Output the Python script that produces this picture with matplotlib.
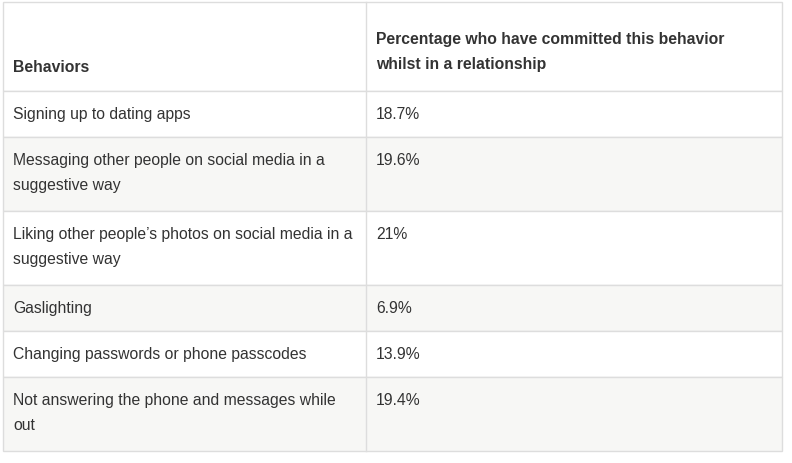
import matplotlib
matplotlib.use("Agg")
import matplotlib.pyplot as plt
from matplotlib.patches import Rectangle

header = ["Behaviors", "Percentage who have committed this behavior\nwhilst in a relationship"]
behaviors = [
    "Signing up to dating apps",
    "Messaging other people on social media in a\nsuggestive way",
    "Liking other people\u2019s photos on social media in a\nsuggestive way",
    "Gaslighting",
    "Changing passwords or phone passcodes",
    "Not answering the phone and messages while\nout",
]
percentages = ["18.7%", "19.6%", "21%", "6.9%", "13.9%", "19.4%"]

W, H = 792, 464
left, right, top = 3, 782, 3
split = 366
line_h = 28
pad = 18
header_h = 89

plt.rcParams["font.family"] = ["Liberation Sans", "DejaVu Sans"]
fig = plt.figure(figsize=(W / 100, H / 100), dpi=100)
ax = fig.add_axes([0, 0, 1, 1])
ax.set_xlim(0, W)
ax.set_ylim(H, 0)
ax.axis("off")

txt = "#333333"
grid = "#dddddd"
fs = 11.3
ls = 1.85

# header
y = top
ax.add_patch(Rectangle((left, y), right - left, header_h, facecolor="white", edgecolor=grid, lw=1))
ax.text(left + 10, y + 57, header[0], fontsize=fs, fontweight="bold", color=txt, va="top")
ax.text(split + 10, y + 29, header[1], fontsize=fs, fontweight="bold",
        color=txt, va="top", linespacing=ls)
y += header_h

for i, (b, p) in enumerate(zip(behaviors, percentages)):
    n = b.count("\n") + 1
    h = n * line_h + pad
    bg = "#f7f7f5" if i % 2 == 1 else "white"
    ax.add_patch(Rectangle((left, y), right - left, h, facecolor=bg, edgecolor=grid, lw=1))
    ax.text(left + 10, y + 15, b, fontsize=fs, color=txt, va="top", linespacing=ls)
    ax.text(split + 10, y + 15, p, fontsize=fs, color=txt, va="top")
    y += h

ax.plot([split, split], [top, y], color=grid, lw=1)

fig.savefig("out.png", dpi=100)
